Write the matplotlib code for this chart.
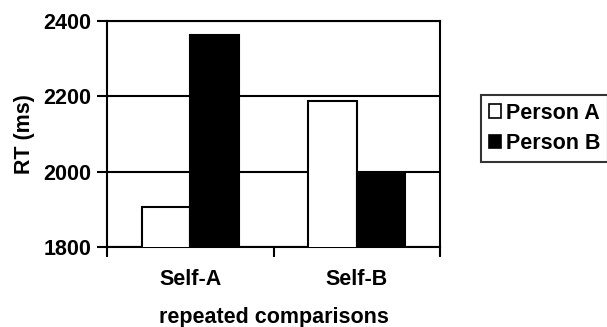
import numpy as np
import matplotlib.pyplot as plt
from matplotlib.patches import Patch

categories = ['Self-A', 'Self-B']
person_a = [1905, 2187]
person_b = [2362, 1997]
series_names = ['Person A', 'Person B']
yticks = [1800, 2000, 2200, 2400]

plt.rcParams['font.family'] = ['Liberation Sans', 'DejaVu Sans']
plt.rcParams['font.weight'] = 'bold'
plt.rcParams['font.size'] = 15.5

fig = plt.figure(figsize=(6.07, 3.27), dpi=100)
ax = fig.add_axes([0.1763, 0.2446, 0.5486, 0.6912])

x = np.arange(len(categories))
w = 0.29
ax.bar(x - w / 2, person_a, w, bottom=0, color='white', edgecolor='black', linewidth=1.5, zorder=3)
ax.bar(x + w / 2, person_b, w, bottom=0, color='black', edgecolor='black', linewidth=1.5, zorder=3)

ax.set_ylim(1800, 2400)
ax.set_xlim(-0.5, 1.5)
ax.set_yticks(yticks)
ax.set_yticklabels([str(t) for t in yticks], fontweight='bold')
ax.yaxis.grid(True, color='black', linewidth=1.5, zorder=0)
ax.set_axisbelow(True)

# category labels between boundary ticks
ax.set_xticks([-0.5, 0.5, 1.5])
ax.set_xticklabels([])
ax.set_xticks(x, minor=True)
ax.set_xticklabels(categories, minor=True, fontweight='bold')
ax.tick_params(axis='x', which='minor', length=0, pad=16)
ax.tick_params(axis='x', which='major', length=7, width=1.5, direction='out')
ax.tick_params(axis='y', length=7, width=1.5, direction='out', pad=4)

for s in ax.spines.values():
    s.set_linewidth(1.5)
    s.set_color('black')

ax.set_ylabel('RT (ms)', fontweight='bold', labelpad=6)
ax.set_xlabel('repeated comparisons', fontweight='bold')
ax.xaxis.set_label_coords(0.5, -0.265)

handles = [Patch(facecolor='white', edgecolor='black', linewidth=1.2),
           Patch(facecolor='black', edgecolor='black', linewidth=1.2)]
leg = fig.legend(handles, series_names, loc='upper left', bbox_to_anchor=(481 / 607, 1 - 95 / 327),
                 frameon=True, fancybox=False, edgecolor='black', handlelength=0.6, handleheight=0.6,
                 handletextpad=0.2, borderpad=0.35, labelspacing=0.45, borderaxespad=0)
leg.get_frame().set_linewidth(1.5)
for t in leg.get_texts():
    t.set_fontweight('bold')

fig.savefig('out.png', dpi=100)
